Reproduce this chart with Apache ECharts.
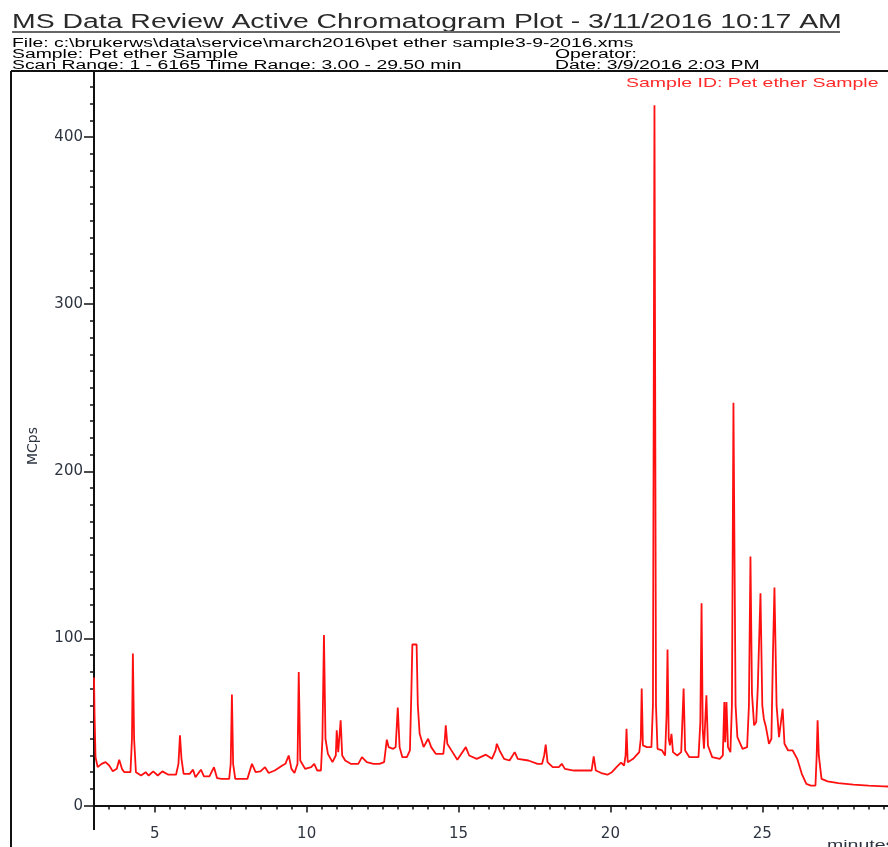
<!DOCTYPE html>
<html>
<head>
<meta charset="utf-8">
<script src="https://cdn.jsdelivr.net/npm/echarts@6/dist/echarts.min.js"></script>
<style>
  html, body { margin: 0; padding: 0; background: #fff; }
  #chart { width: 888px; height: 847px; }
</style>
</head>
<body>
<div id="chart"></div>
<script>
// retention time (minutes)
const times = [
  3.00, 3.02, 3.05, 3.12, 3.25, 3.38, 3.50, 3.62, 3.75, 3.83, 3.92, 4.00, 4.20, 4.25, 4.28, 4.32, 4.38,
  4.55, 4.70, 4.80, 4.95, 5.10, 5.25, 5.45, 5.70, 5.78, 5.83, 5.88, 5.95, 6.15, 6.26, 6.34, 6.52, 6.62,
  6.80, 6.95, 7.05, 7.20, 7.45, 7.50, 7.54, 7.58, 7.65, 8.05, 8.20, 8.32, 8.48, 8.63, 8.75, 8.95, 9.20,
  9.30, 9.41, 9.50, 9.60, 9.70, 9.74, 9.79, 9.95, 10.15, 10.25, 10.35, 10.47, 10.52, 10.57, 10.62, 10.70,
  10.85, 10.96, 10.99, 11.04, 11.09, 11.12, 11.17, 11.27, 11.45, 11.70, 11.82, 11.98, 12.20, 12.40, 12.55,
  12.64, 12.70, 12.85, 12.93, 13.00, 13.06, 13.15, 13.30, 13.40, 13.45, 13.48, 13.62, 13.66, 13.72, 13.85,
  14.00, 14.10, 14.25, 14.50, 14.55, 14.58, 14.63, 14.75, 14.96, 15.24, 15.35, 15.60, 15.90, 16.10, 16.22,
  16.26, 16.35, 16.50, 16.68, 16.85, 16.95, 17.30, 17.60, 17.75, 17.82, 17.87, 17.93, 18.10, 18.30, 18.40,
  18.50, 18.80, 19.20, 19.38, 19.45, 19.52, 19.70, 19.90, 20.05, 20.20, 20.35, 20.45, 20.50, 20.53, 20.57,
  20.75, 20.85, 20.95, 21.00, 21.03, 21.07, 21.20, 21.35, 21.40, 21.45, 21.50, 21.55, 21.70, 21.80, 21.85,
  21.88, 21.92, 21.96, 22.01, 22.06, 22.20, 22.33, 22.41, 22.46, 22.60, 22.90, 22.96, 23.00, 23.04, 23.08,
  23.16, 23.21, 23.35, 23.60, 23.70, 23.75, 23.78, 23.82, 23.87, 23.95, 24.00, 24.05, 24.12, 24.18, 24.35,
  24.50, 24.56, 24.61, 24.66, 24.73, 24.80, 24.85, 24.94, 25.00, 25.05, 25.12, 25.22, 25.30, 25.35, 25.40,
  25.47, 25.55, 25.67, 25.73, 25.85, 26.00, 26.15, 26.30, 26.45, 26.60, 26.75, 26.79, 26.82, 26.86, 26.95,
  27.15, 27.50, 28.00, 28.50, 29.00, 29.50
];
// intensity (MCps)
const mcps = [
  76.6, 53, 29, 23, 25, 26, 24, 20.5, 22, 27.5, 22, 20, 20, 40, 91, 40, 20,
  18, 20, 18, 20.5, 18, 20.5, 18.5, 18.5, 25, 42, 28, 19, 19, 21.5, 17, 21.5, 17.5,
  17.5, 23, 16.5, 16, 16, 25, 66.5, 25, 16, 16, 25, 20, 20.5, 23, 19.5, 21, 24,
  25, 30, 22, 19.5, 25, 80, 27, 22, 23, 25, 21, 21, 40, 102, 40, 31,
  26, 30, 45, 32, 32, 51, 30, 27, 25, 25, 29, 26, 25, 25, 26,
  39.5, 35, 34, 35, 58.7, 35, 29, 29, 33, 70, 96.4, 96.4, 60, 43, 35,
  40, 35, 31, 31, 40, 48, 37, 33.5, 27.5, 35, 30, 28, 30.5, 28, 33,
  37, 33, 28, 27, 32, 28, 27, 25, 25, 30, 36.5, 26, 23, 23, 25,
  22, 21, 21, 21, 29.5, 21, 19.5, 18.5, 20, 23, 25.7, 24, 30, 46, 26,
  28, 30, 32, 40, 70, 36, 35, 35, 60, 419, 60, 34, 33, 30, 55,
  93.4, 40, 36, 43, 32, 30, 32, 70, 33, 29, 29, 50, 121, 45, 34,
  66, 36, 29, 28, 30, 62, 38, 62, 35, 32, 60, 241, 60, 41, 34,
  35, 60, 149, 67, 48, 50, 70, 127, 60, 52, 47, 37, 40, 90, 130.5,
  60, 41, 58, 37, 33, 33, 28, 19, 13, 12, 12, 30, 51, 30, 16,
  14.5, 13.5, 12.6, 12, 11.5, 11.3
];
const xLabels = [5, 10, 15, 20, 25];
const yLabels = [0, 100, 200, 300, 400];

const title = "MS Data Review Active Chromatogram Plot - 3/11/2016 10:17 AM";
const fileLine = "File: c:\\brukerws\\data\\service\\march2016\\pet ether sample3-9-2016.xms";
const sampleLine = "Sample: Pet ether Sample";
const scanLine = "Scan Range: 1 - 6165 Time Range: 3.00 - 29.50 min";
const operatorLine = "Operator:";
const dateLine = "Date: 3/9/2016 2:03 PM";
const sampleId = "Sample ID: Pet ether Sample";

const red = "#ff1010";
const ink = "#111";
const labelColor = "#2d3440";

// small ticks between the labelled ones
const xMinor = [];
for (let v = 3; v <= 29.5; v += 0.5) xMinor.push(v);
const yMinor = [];
for (let v = 0; v <= 430; v += 10) yMinor.push(v);

function headerText(text, x, y, size, sx, fill) {
  return {
    type: "text",
    x: x,
    y: y,
    scaleX: sx,
    silent: true,
    style: {
      text: text,
      font: size + 'px "Liberation Sans", Arial, sans-serif',
      fill: fill || "#000",
      textAlign: "left",
      textVerticalAlign: "middle",
    },
  };
}

const chart = echarts.init(document.getElementById("chart"), null, { renderer: "canvas" });

chart.setOption({
  animation: false,
  // the plot runs on past the right edge of the picture (axis ends at 29.5 min)
  grid: { left: 94, width: 805, top: 71, bottom: 26, outerBoundsMode: "none" },
  xAxis: [
    {
      type: "value",
      min: 3,
      max: 29.5,
      position: "bottom",
      axisLine: { lineStyle: { color: ink, width: 2 } },
      axisTick: { customValues: xMinor, length: 4, lineStyle: { color: ink, width: 1.5 } },
      axisLabel: {
        customValues: xLabels,
        color: labelColor,
        fontFamily: "DejaVu Sans",
        fontSize: 15,
        margin: 6,
      },
      splitLine: { show: false },
    },
    {
      type: "value",
      min: 3,
      max: 29.5,
      position: "bottom",
      axisLine: { show: false },
      axisTick: { customValues: xLabels, length: 7, lineStyle: { color: ink, width: 1.5 } },
      axisLabel: { show: false },
      splitLine: { show: false },
    },
  ],
  yAxis: [
    {
      type: "value",
      min: -9.2,
      max: 439.5,
      position: "left",
      name: "MCps",
      nameLocation: "middle",
      nameRotate: 90,
      nameGap: 54,
      nameTextStyle: { color: labelColor, fontFamily: "DejaVu Sans", fontSize: 14 },
      axisLine: { lineStyle: { color: ink, width: 2 } },
      axisTick: { customValues: yMinor, length: 4, lineStyle: { color: ink, width: 1.5 } },
      axisLabel: {
        customValues: yLabels,
        color: labelColor,
        fontFamily: "DejaVu Sans",
        fontSize: 15,
        margin: 11,
      },
      splitLine: { show: false },
    },
    {
      type: "value",
      min: -9.2,
      max: 439.5,
      position: "left",
      axisLine: { show: false },
      axisTick: { customValues: yLabels, length: 10, lineStyle: { color: ink, width: 1.5 } },
      axisLabel: { show: false },
      splitLine: { show: false },
    },
  ],
  series: [
    {
      type: "line",
      name: sampleId,
      xAxisIndex: 0,
      yAxisIndex: 0,
      data: times.map((t, i) => [t, mcps[i]]),
      showSymbol: false,
      symbol: "none",
      lineStyle: { color: red, width: 1.8 },
    },
  ],
  graphic: [
    headerText(title, 12, 22, 20, 1.42, "#2a2a2a"),
    { type: "line", silent: true, shape: { x1: 12, y1: 32, x2: 840, y2: 32 }, style: { stroke: "#666", lineWidth: 2 } },
    headerText(fileLine, 12, 43.5, 12.5, 1.55),
    headerText(sampleLine, 12, 54.5, 12.5, 1.55),
    headerText(scanLine, 12, 65.5, 12.5, 1.55),
    headerText(operatorLine, 555, 54.5, 12.5, 1.55),
    headerText(dateLine, 555, 65.5, 12.5, 1.55),
    headerText(sampleId, 626, 83, 13, 1.5, "#ff2a2a"),
    headerText("minutes", 827, 845, 13, 1.5, labelColor),
    // page frame round the plot
    { type: "line", silent: true, shape: { x1: 11, y1: 71, x2: 888, y2: 71 }, style: { stroke: ink, lineWidth: 2 } },
    { type: "line", silent: true, shape: { x1: 11, y1: 71, x2: 11, y2: 847 }, style: { stroke: ink, lineWidth: 2 } },
    // y axis line runs a little past the time axis
    { type: "line", silent: true, shape: { x1: 94, y1: 821, x2: 94, y2: 830 }, style: { stroke: ink, lineWidth: 2 } },
  ],
});
</script>
</body>
</html>
